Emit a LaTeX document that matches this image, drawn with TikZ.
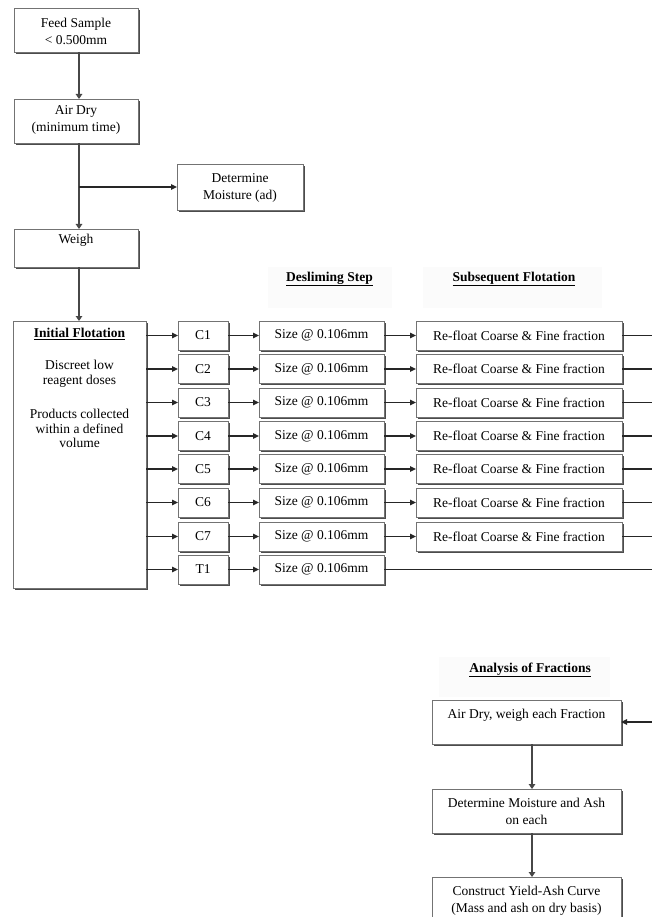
\documentclass[tikz,border=0pt]{standalone}
\usepackage{fontspec}
\setmainfont{Liberation Serif}
\usetikzlibrary{arrows.meta,shadows}
\begin{document}
\begin{tikzpicture}[x=1pt,y=1pt,
  box/.style={draw=black!55, line width=0.9pt, fill=white, inner sep=0pt, outer sep=0pt,
    drop shadow={shadow xshift=1.6pt, shadow yshift=-1.6pt, fill=black!70, opacity=1}},
  txt/.style={inner sep=0pt, align=center, font=\fontsize{13.5}{17}\selectfont},
  txttight/.style={inner sep=0pt, align=center, font=\fontsize{13.5}{14.5}\selectfont},
  hdr/.style={inner sep=0pt, font=\fontsize{13.5}{17}\selectfont\bfseries},
  hbg/.style={fill=black!1.5, draw=none},
  vflow/.style={draw=black!72, line width=2.8pt, -{Triangle[length=5pt,width=6.5pt]}},
  hflow/.style={draw=black!85, line width=1.5pt, -{Triangle[length=6pt,width=5.5pt]}},
  hline/.style={draw=black!85, line width=1.5pt},
  cbox/.style={box, minimum width=50pt, minimum height=29pt},
  sbox/.style={box, minimum width=125pt, minimum height=29pt},
  rbox/.style={box, minimum width=206pt, minimum height=29pt}
]
\clip (0,0) rectangle (652,-917);
\fill[white] (0,0) rectangle (652,-917);
\coordinate (edge) at (652,0);

% header backgrounds
\fill[hbg] (268,-267) rectangle (392,-308);
\fill[hbg] (423,-267) rectangle (602,-308);
\fill[hbg] (439,-657) rectangle (610,-697);

% left column boxes
\node[box, minimum width=124pt, minimum height=44pt] (feed) at (76,-30) {};
\node[txt] at (76,-31.5) {Feed Sample\\\textless{} 0.500mm};
\node[box, minimum width=124pt, minimum height=44pt] (airdry) at (76,-121) {};
\node[txt] at (76,-120) {Air Dry\\(minimum time)};
\node[box, minimum width=126pt, minimum height=46pt] (moist) at (240,-187) {};
\node[txt] at (240,-187.5) {Determine\\Moisture (ad)};
\node[box, minimum width=124pt, minimum height=38pt] (weigh) at (76,-248) {};
\node[txt] at (76,-240) {Weigh};
\node[box, minimum width=133pt, minimum height=267pt] (iflot) at (79.5,-454.5) {};
\node[hdr] at (79.5,-334) {\underline{Initial Flotation}};
\node[txttight] at (79.5,-374) {Discreet low\\reagent doses};
\node[txttight] at (79.5,-428.5) {Products collected\\within a defined\\volume};

% headers
\node[hdr] at (329.5,-279) {\underline{Desliming Step}};
\node[hdr] at (514,-279) {\underline{Subsequent Flotation}};
\node[hdr] at (530,-670) {\underline{Analysis of Fractions}};

% rows
\foreach \i/\lab/\y in {1/C1/335.5, 2/C2/369, 3/C3/402.5, 4/C4/436, 5/C5/469, 6/C6/502.5, 7/C7/536.5, 8/T1/569.5}{
  \node[cbox] (c\i) at (203,-\y) {};
  \node[txt] at (203,-\y) {\lab};
  \node[sbox] (s\i) at (321.5,-\y) {};
  \node[txt] at (321.5,-\y) {Size @ 0.106mm};
}
\foreach \i/\y in {1/335.5, 2/369, 3/402.5, 4/436, 5/469, 6/502.5, 7/536.5}{
  \node[rbox] (r\i) at (519,-\y) {};
  \node[txt] at (519,-\y) {Re-float Coarse \& Fine fraction};
}

% analysis boxes
\node[box, minimum width=189pt, minimum height=44pt] (a2) at (526.5,-722) {};
\node[txt] at (526.5,-715) {Air Dry, weigh each Fraction};
\node[box, minimum width=189pt, minimum height=44pt] (dm2) at (526.5,-811) {};
\node[txt] at (526.5,-811) {Determine Moisture and Ash\\on each};
\node[box, minimum width=189pt, minimum height=48pt] (cy) at (526.5,-901) {};
\node[txt] at (526.5,-901) {Construct Yield-Ash Curve\\(Mass and ash on dry basis)};

% vertical flow
\draw[vflow] ([xshift=3pt]feed.south) -- ([xshift=3pt]airdry.north);
\draw[vflow] ([xshift=3pt]airdry.south) -- ([xshift=3pt]weigh.north);
\coordinate (br) at (79,-187);
\draw[hflow] (br) -- (moist.west);
\draw[vflow] ([xshift=3pt]weigh.south) -- ([xshift=3pt]weigh.south |- iflot.north);

% row connectors
\foreach \i in {1,...,8}{
  \draw[hflow] (iflot.east |- c\i.west) -- (c\i.west);
  \draw[hflow] (c\i.east) -- (s\i.west);
}
\foreach \i in {1,...,7}{
  \draw[hflow] (s\i.east) -- (r\i.west);
  \draw[hline] (r\i.east) -- (r\i.east -| edge);
}
\draw[hline] (s8.east) -- (s8.east -| edge);

% analysis flow
\draw[hflow] (edge |- a2.east) -- (a2.east);
\draw[vflow] ([xshift=5.5pt]a2.south) -- ([xshift=5.5pt]dm2.north);
\draw[vflow] ([xshift=5.5pt]dm2.south) -- ([xshift=5.5pt]cy.north);
\end{tikzpicture}
\end{document}
